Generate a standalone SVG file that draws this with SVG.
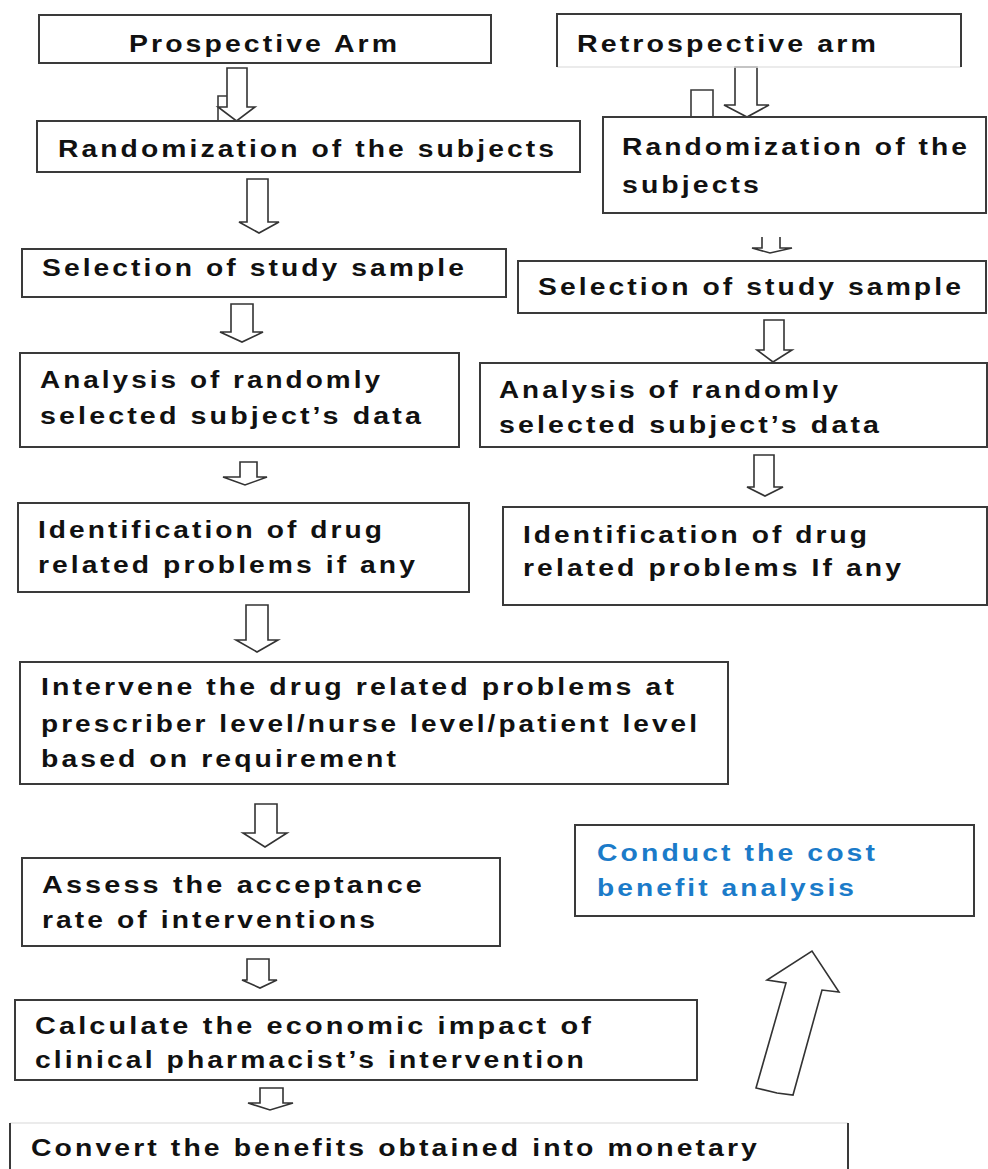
<svg xmlns="http://www.w3.org/2000/svg" width="988" height="1169" viewBox="0 0 988 1169">
<style>
.box{fill:#fff;stroke:#3a3a3a;stroke-width:2}
.edge{fill:none;stroke:#3a3a3a;stroke-width:2}
.faint{fill:none;stroke:#e4e4e4;stroke-width:1.5}
.arr{fill:#fff;stroke:#333;stroke-width:1.6;stroke-linejoin:miter}
.t{font-family:"Liberation Sans",Arial,sans-serif;font-weight:bold;font-size:23px;letter-spacing:2.5px;fill:#111}
.blue{fill:#1b7bc9}
</style>
<rect width="988" height="1169" fill="#fff"/>
<g id="connectors">
<path class="arr" d="M227,68 H247 V107 H255 L236.5,121 L218,107 H227 Z"/>
<path class="edge" style="stroke-width:1.6" d="M218,121 V96 H227"/>
<path class="arr" d="M735,67 H757 V105 H769 L747,117 L724,105 H735 Z"/>
<path class="edge" style="stroke-width:1.6" d="M691,117 V90 H713 V117"/>
<path class="arr" d="M247,179 H268 V222 H279 L259,233 L239,222 H247 Z"/>
<path class="arr" d="M762,237 V248 H752 L770,253 L792,248 H780 V237"/>
<path class="arr" d="M231,304 H253 V332 H263 L242,342 L220,332 H231 Z"/>
<path class="arr" d="M764,320 H784 V350 H792 L773,362 L757,350 H764 Z"/>
<path class="arr" d="M240,462 H257 V477 H267 L245,485 L223,477 H240 Z"/>
<path class="arr" d="M754,455 H774 V487 H783 L765,496 L747,487 H754 Z"/>
<path class="arr" d="M246,605 H268 V640 H278 L257,652 L236,640 H246 Z"/>
<path class="arr" d="M255,804 H277 V833 H287 L265,847 L243,833 H255 Z"/>
<path class="arr" d="M247,959 H269 V980 H277 L260,988 L242,980 H247 Z"/>
<path class="arr" d="M260,1088 H283 V1103 H293 L270,1110 L248,1103 H260 Z"/>
<path class="arr" d="M756,1088 L786,983 L767,980 L812,951 L839,992 L822,990 L793,1095 L777,1093 Z"/>
</g>
<g id="prospective-arm">
<rect class="box" x="39" y="15" width="452" height="48"/>
<text class="t" x="129" y="52" textLength="271" lengthAdjust="spacingAndGlyphs">Prospective Arm</text>
</g>
<g id="retrospective-arm">
<path class="faint" d="M557,67 H961"/>
<path class="edge" d="M557,67 V14 H961 V67"/>
<text class="t" x="577" y="52" textLength="302" lengthAdjust="spacingAndGlyphs">Retrospective arm</text>
</g>
<g id="randomization-left">
<rect class="box" x="37" y="121" width="543" height="51"/>
<text class="t" x="58" y="157" textLength="499" lengthAdjust="spacingAndGlyphs">Randomization of the subjects</text>
</g>
<g id="randomization-right">
<rect class="box" x="603" y="117" width="383" height="96"/>
<text class="t" x="622" y="155" textLength="348" lengthAdjust="spacingAndGlyphs">Randomization of the</text>
<text class="t" x="622" y="193" textLength="140" lengthAdjust="spacingAndGlyphs">subjects</text>
</g>
<g id="selection-left">
<rect class="box" x="22" y="249" width="484" height="48"/>
<text class="t" x="42" y="276" textLength="425" lengthAdjust="spacingAndGlyphs">Selection of study sample</text>
</g>
<g id="selection-right">
<rect class="box" x="518" y="261" width="468" height="52"/>
<text class="t" x="538" y="295" textLength="426" lengthAdjust="spacingAndGlyphs">Selection of study sample</text>
</g>
<g id="analysis-left">
<rect class="box" x="20" y="353" width="439" height="94"/>
<text class="t" x="40" y="388" textLength="343" lengthAdjust="spacingAndGlyphs">Analysis of randomly</text>
<text class="t" x="40" y="424" textLength="384" lengthAdjust="spacingAndGlyphs">selected subject’s data</text>
</g>
<g id="analysis-right">
<rect class="box" x="480" y="363" width="507" height="84"/>
<text class="t" x="499" y="398" textLength="342" lengthAdjust="spacingAndGlyphs">Analysis of randomly</text>
<text class="t" x="499" y="433" textLength="383" lengthAdjust="spacingAndGlyphs">selected subject’s data</text>
</g>
<g id="identification-left">
<rect class="box" x="18" y="503" width="451" height="89"/>
<text class="t" x="38" y="538" textLength="347" lengthAdjust="spacingAndGlyphs">Identification of drug</text>
<text class="t" x="38" y="573" textLength="380" lengthAdjust="spacingAndGlyphs">related problems if any</text>
</g>
<g id="identification-right">
<rect class="box" x="503" y="507" width="484" height="98"/>
<text class="t" x="523" y="543" textLength="347" lengthAdjust="spacingAndGlyphs">Identification of drug</text>
<text class="t" x="523" y="576" textLength="381" lengthAdjust="spacingAndGlyphs">related problems If any</text>
</g>
<g id="intervene">
<rect class="box" x="20" y="662" width="708" height="122"/>
<text class="t" x="41" y="695" textLength="636" lengthAdjust="spacingAndGlyphs">Intervene the drug related problems at</text>
<text class="t" x="41" y="732" textLength="659" lengthAdjust="spacingAndGlyphs">prescriber level/nurse level/patient level</text>
<text class="t" x="41" y="767" textLength="358" lengthAdjust="spacingAndGlyphs">based on requirement</text>
</g>
<g id="cost-benefit">
<rect class="box" x="575" y="825" width="399" height="91"/>
<text class="t blue" x="597" y="861" textLength="281" lengthAdjust="spacingAndGlyphs">Conduct the cost</text>
<text class="t blue" x="597" y="896" textLength="260" lengthAdjust="spacingAndGlyphs">benefit analysis</text>
</g>
<g id="assess">
<rect class="box" x="22" y="858" width="478" height="88"/>
<text class="t" x="42" y="893" textLength="383" lengthAdjust="spacingAndGlyphs">Assess the acceptance</text>
<text class="t" x="42" y="928" textLength="336" lengthAdjust="spacingAndGlyphs">rate of interventions</text>
</g>
<g id="calculate">
<rect class="box" x="15" y="1000" width="682" height="80"/>
<text class="t" x="35" y="1034" textLength="559" lengthAdjust="spacingAndGlyphs">Calculate the economic impact of</text>
<text class="t" x="35" y="1068" textLength="552" lengthAdjust="spacingAndGlyphs">clinical pharmacist’s intervention</text>
</g>
<g id="convert">
<path class="faint" d="M10,1123 H848"/>
<path class="edge" d="M10,1169 V1123 M848,1123 V1169"/>
<text class="t" x="31" y="1156" textLength="729" lengthAdjust="spacingAndGlyphs">Convert the benefits obtained into monetary</text>
</g>
</svg>
